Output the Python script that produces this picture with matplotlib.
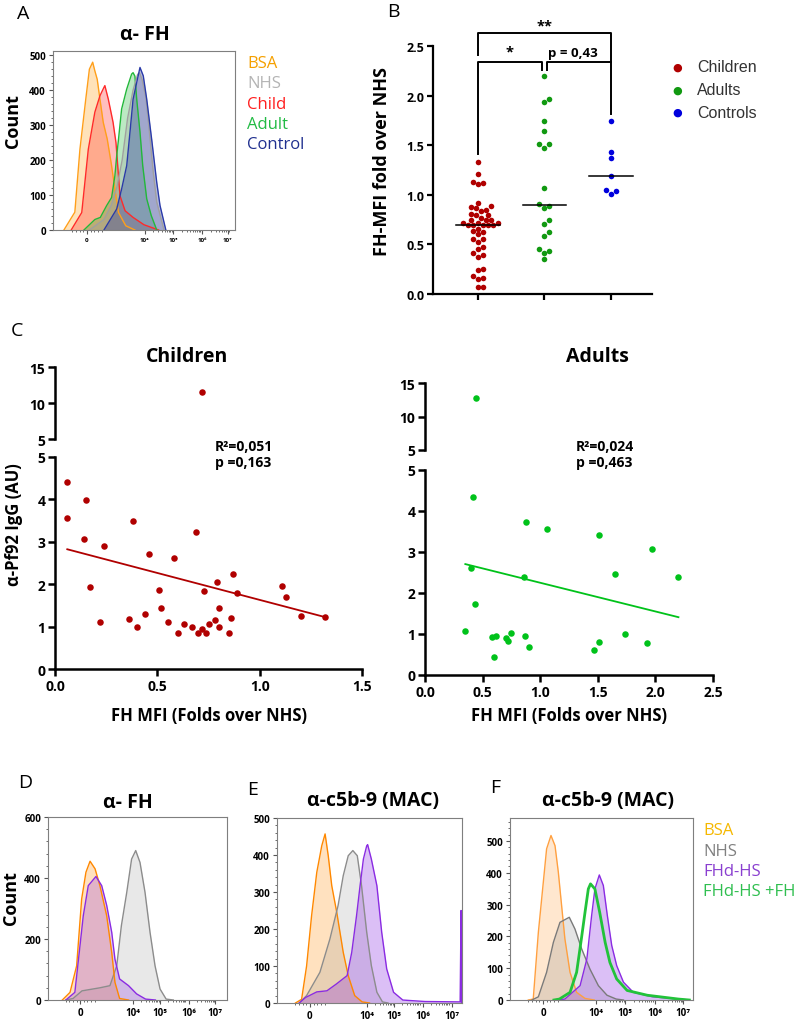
# Multi-panel figure: flow histograms, FH-MFI scatter, IgG correlations

import numpy as np
import matplotlib
matplotlib.use("Agg")
import matplotlib.pyplot as plt
from matplotlib.ticker import MultipleLocator, FixedLocator, AutoMinorLocator


W, H = 798, 1020
plt.rcParams['font.family'] = ['Open Sans', 'DejaVu Sans']


# ------------------------------------------------------------
# Data
# ------------------------------------------------------------

# flow axis ticks (position along the biexponential axis, 0..1)
flow_tick_labels = ["0", "10⁴", "10⁵", "10⁶", "10⁷"]
a_tick_pos = [0.187, 0.505, 0.66, 0.82, 0.96]
def_tick_pos = [0.18, 0.475, 0.625, 0.785, 0.935]

# Panel A histograms
a_bsa_x = [0.06, 0.12, 0.148, 0.18, 0.20, 0.218, 0.23, 0.243, 0.258, 0.276, 0.298, 0.322, 0.34, 0.36, 0.40, 0.45]
a_bsa_y = [0, 51, 231, 374, 460, 480, 455, 431, 374, 308, 260, 184, 117, 50, 12, 0]
a_child_x = [0.10, 0.158, 0.194, 0.23, 0.258, 0.28, 0.285, 0.304, 0.33, 0.346, 0.368, 0.396, 0.44, 0.50, 0.58]
a_child_y = [0, 50, 231, 337, 384, 408, 413, 374, 308, 250, 98, 55, 36, 15, 0]
a_adult_x = [0.17, 0.23, 0.26, 0.295, 0.322, 0.34, 0.35, 0.36, 0.377, 0.405, 0.432, 0.44, 0.45, 0.46, 0.478, 0.493, 0.515, 0.54, 0.57]
a_adult_y = [0, 30, 36, 70, 93, 155, 212, 260, 346, 403, 446, 450, 440, 374, 280, 184, 89, 41, 0]
a_nhs_x = [0.20, 0.28, 0.32, 0.35, 0.38, 0.41, 0.44, 0.465, 0.475, 0.49, 0.51, 0.53, 0.55, 0.57, 0.61]
a_nhs_y = [0, 30, 70, 120, 200, 320, 400, 445, 450, 430, 380, 280, 170, 80, 0]
a_ctrl_x = [0.28, 0.35, 0.377, 0.405, 0.423, 0.44, 0.46, 0.478, 0.496, 0.515, 0.542, 0.57, 0.588, 0.62]
a_ctrl_y = [0, 60, 117, 184, 280, 374, 422, 465, 441, 374, 260, 136, 70, 0]

# Panel B: FH-MFI fold over NHS
b_groups = ["Children", "Adults", "Controls"]
b_children = [1.33, 1.21, 1.13, 1.12, 1.11, 0.92, 0.89, 0.88, 0.87, 0.85, 0.84, 0.81, 0.80, 0.80,
              0.77, 0.75, 0.75, 0.75, 0.72, 0.72, 0.72, 0.70, 0.70, 0.70, 0.70, 0.70, 0.66, 0.64,
              0.62, 0.60, 0.55, 0.55, 0.52, 0.47, 0.45, 0.41, 0.39, 0.37, 0.25, 0.24, 0.18, 0.16,
              0.15, 0.07, 0.07]
b_adults = [2.20, 1.97, 1.94, 1.74, 1.64, 1.51, 1.51, 1.47, 1.07, 0.91, 0.89, 0.87, 0.75, 0.71,
            0.62, 0.58, 0.45, 0.43, 0.41, 0.35]
b_controls = [1.74, 1.43, 1.37, 1.19, 1.05, 1.04, 1.01]
b_medians = [0.70, 0.90, 1.19]

# Panel C: anti-Pf92 IgG vs FH MFI
c_child_x = [0.06, 0.06, 0.15, 0.14, 0.24, 0.17, 0.38, 0.46, 0.58, 0.69, 0.79, 0.87, 1.11, 0.51,
             0.22, 0.36, 0.40, 0.44, 0.52, 0.55, 0.60, 0.63, 0.67, 0.70, 0.72, 0.73, 0.75, 0.74,
             0.78, 0.80, 0.80, 0.85, 0.86, 0.89, 1.13, 1.20, 1.32, 0.72]
c_child_y = [4.40, 3.56, 3.98, 3.06, 2.91, 1.93, 3.50, 2.71, 2.61, 3.23, 2.05, 2.25, 1.95, 1.87,
             1.10, 1.18, 0.98, 1.30, 1.45, 1.12, 0.85, 1.05, 1.00, 0.85, 0.95, 1.85, 1.05, 0.85,
             1.15, 1.45, 1.00, 0.85, 1.20, 1.80, 1.70, 1.25, 1.22, 11.5]
c_child_fit = (2.90, -1.27)     # intercept, slope
c_child_stats = "R²=0,051\np =0,163"

c_adult_x = [0.44, 0.42, 0.88, 1.06, 1.51, 1.97, 1.65, 2.20, 0.40, 0.86,
             0.35, 0.43, 0.58, 0.62, 0.60, 0.70, 0.72, 0.75, 0.87, 0.90, 1.47, 1.51, 1.74, 1.93]
c_adult_y = [12.8, 4.33, 3.73, 3.57, 3.41, 3.08, 2.47, 2.39, 2.60, 2.40,
             1.08, 1.72, 0.92, 0.95, 0.45, 0.90, 0.82, 1.02, 0.95, 0.68, 0.62, 0.80, 1.00, 0.78]
c_adult_fit = (2.95, -0.70)
c_adult_stats = "R²=0,024\np =0,463"

# Panel D histograms (alpha-FH)
d_bsa_x = [0.08, 0.123, 0.16, 0.188, 0.212, 0.235, 0.263, 0.29, 0.328, 0.356, 0.374, 0.40, 0.45]
d_bsa_y = [0, 25, 112, 331, 419, 455, 430, 375, 276, 156, 58, 5, 0]
d_fhd_x = [0.10, 0.15, 0.197, 0.225, 0.268, 0.30, 0.328, 0.356, 0.374, 0.40, 0.45, 0.495, 0.545, 0.60]
d_fhd_y = [0, 25, 276, 375, 405, 375, 310, 222, 134, 69, 47, 20, 3, 0]
d_nhs_x = [0.10, 0.14, 0.19, 0.29, 0.346, 0.384, 0.41, 0.44, 0.467, 0.49, 0.514, 0.542, 0.57, 0.598, 0.626, 0.66, 0.70]
d_nhs_y = [0, 5, 30, 40, 47, 112, 244, 353, 462, 490, 451, 353, 222, 112, 36, 3, 0]

# Panel E histograms (alpha-c5b-9)
e_bsa_x = [0.10, 0.133, 0.16, 0.187, 0.215, 0.242, 0.26, 0.277, 0.296, 0.323, 0.358, 0.385, 0.42, 0.46, 0.50]
e_bsa_y = [0, 10, 100, 236, 353, 425, 457, 398, 317, 245, 137, 74, 20, 3, 0]
e_nhs_x = [0.12, 0.16, 0.232, 0.286, 0.33, 0.358, 0.385, 0.41, 0.434, 0.457, 0.485, 0.51, 0.54, 0.57, 0.60]
e_nhs_y = [0, 20, 83, 173, 263, 344, 398, 412, 398, 317, 191, 101, 29, 3, 0]
e_fhd_x = [0.12, 0.155, 0.215, 0.27, 0.32, 0.379, 0.404, 0.43, 0.449, 0.467, 0.485, 0.49, 0.51,
           0.54, 0.566, 0.593, 0.63, 0.68, 0.80, 0.99, 0.995, 0.997]
e_fhd_y = [0, 15, 30, 33, 51, 74, 137, 236, 317, 389, 425, 428, 389, 317, 191, 92, 29, 8, 4, 3, 250, 0]

# Panel F histograms (alpha-c5b-9)
f_bsa_x = [0.10, 0.127, 0.155, 0.182, 0.20, 0.224, 0.246, 0.264, 0.282, 0.30, 0.328, 0.364, 0.41, 0.46]
f_bsa_y = [0, 3, 213, 370, 475, 517, 485, 402, 297, 192, 87, 24, 5, 0]
f_nhs_x = [0.12, 0.155, 0.20, 0.237, 0.273, 0.324, 0.355, 0.392, 0.437, 0.483, 0.53, 0.58, 0.62]
f_nhs_y = [0, 10, 87, 181, 244, 260, 223, 160, 97, 45, 15, 3, 0]
f_fhd_x = [0.26, 0.30, 0.383, 0.42, 0.446, 0.464, 0.488, 0.51, 0.532, 0.556, 0.583, 0.62, 0.674, 0.78, 0.92, 0.98]
f_fhd_y = [0, 3, 45, 129, 265, 349, 393, 360, 265, 171, 108, 56, 24, 10, 3, 0]
f_fhdfh_x = [0.24, 0.27, 0.328, 0.364, 0.39, 0.41, 0.428, 0.44, 0.464, 0.49, 0.52, 0.546, 0.583, 0.64, 0.75, 0.92, 0.98]
f_fhdfh_y = [0, 3, 24, 87, 192, 276, 349, 365, 349, 276, 181, 118, 66, 30, 15, 3, 0]


# ------------------------------------------------------------
# Helpers
# ------------------------------------------------------------

fig = plt.figure(figsize=(W / 100, H / 100), dpi=100)


def add_ax(left, top, right, bottom):
    return fig.add_axes([left / W, 1 - bottom / H, (right - left) / W, (bottom - top) / H])


def ftext(x, y, s, **kw):
    fig.text(x / W, 1 - y / H, s, **kw)


def flow_axes(ax, ymax, tick_pos, step, label_size=7):
    ax.set_xlim(0, 1)
    ax.set_ylim(0, ymax)
    for sp in ax.spines.values():
        sp.set_color("#7f7f7f")
        sp.set_linewidth(0.8)
    ax.yaxis.set_major_locator(MultipleLocator(step))
    ax.yaxis.set_minor_locator(AutoMinorLocator(5))
    ax.xaxis.set_major_locator(FixedLocator(tick_pos))
    ax.set_xticklabels(flow_tick_labels)
    decade = tick_pos[2] - tick_pos[1]
    minor = []
    for p in tick_pos[1:4]:
        minor += [p + decade * np.log10(k) for k in range(2, 10)]
    minor += [tick_pos[0] - 0.02 * k for k in range(1, 5)] + [tick_pos[0] + 0.02 * k for k in range(1, 5)]
    ax.xaxis.set_minor_locator(FixedLocator(minor))
    ax.tick_params(which="major", length=3, width=0.8, color="#555555", pad=2)
    ax.tick_params(which="minor", length=1.5, width=0.6, color="#555555")
    for lab in ax.get_yticklabels() + ax.get_xticklabels():
        lab.set_fontsize(label_size)
        lab.set_fontweight("bold")


def hist(ax, x, y, color, alpha=0.3, lw=1.0, fill=True):
    if fill:
        ax.fill_between(x, y, color=color, alpha=alpha, lw=0)
    ax.plot(x, y, color=color, lw=lw)


def swarm(values, px_x, px_y, min_dist, step):
    # place points bottom-up, nudging sideways until they do not overlap
    order = np.argsort(values, kind="stable")
    placed = []
    offsets = np.zeros(len(values))
    for i in order:
        yp = values[i] * px_y
        k = 0
        while True:
            cands = [0.0] if k == 0 else [k * step, -k * step]
            ok = None
            for c in cands:
                if all((c - ox) ** 2 + (yp - oy) ** 2 >= min_dist ** 2 for ox, oy in placed):
                    ok = c
                    break
            if ok is not None:
                break
            k += 1
        placed.append((ok, yp))
        offsets[i] = ok / px_x
    return offsets


# ------------------------------------------------------------
# Panel A
# ------------------------------------------------------------

ax_a = add_ax(53, 52, 235, 231)
hist(ax_a, a_bsa_x, a_bsa_y, "#ff9f1a")
hist(ax_a, a_child_x, a_child_y, "#ff2a2a")
hist(ax_a, a_adult_x, a_adult_y, "#22b83a")
hist(ax_a, a_nhs_x, a_nhs_y, "#a0a0a0")
hist(ax_a, a_ctrl_x, a_ctrl_y, "#2a3aa8", alpha=0.35)
flow_axes(ax_a, 512, a_tick_pos, 100)
for lab in ax_a.get_xticklabels():
    lab.set_fontsize(4.5)
ax_a.set_ylabel("Count", fontsize=13, fontweight="bold")
ax_a.yaxis.set_label_coords(-0.17, 0.615)

ftext(23, 14, "A", fontsize=14, va="center", ha="center")
ftext(145, 35, "α- FH", fontsize=14, fontweight="bold", va="center", ha="center")

a_legend = [("BSA", "#f5a000"), ("NHS", "#b4b4b4"), ("Child", "#ff2020"),
            ("Adult", "#22bb44"), ("Control", "#20308f")]
for i, (name, col) in enumerate(a_legend):
    ftext(247, 64 + i * 20.3, name, fontsize=12, color=col, va="center")


# ------------------------------------------------------------
# Panel B
# ------------------------------------------------------------

ax_b = add_ax(433, 47, 652, 295)
ax_b.set_ylim(0, 2.5)
ax_b.set_xlim(-0.68, 2.62)
fig.canvas.draw()
px_x = (ax_b.transData.transform((1, 0))[0] - ax_b.transData.transform((0, 0))[0])
px_y = (ax_b.transData.transform((0, 1))[1] - ax_b.transData.transform((0, 0))[1])

b_colors = ["#b00000", "#119911", "#0000dd"]
for gi, vals in enumerate([b_children, b_adults, b_controls]):
    vals = np.array(vals)
    offs = swarm(vals, px_x, px_y, 5.0, 2.5)
    ax_b.scatter(gi + offs, vals, s=16, color=b_colors[gi], lw=0, zorder=3)
    ax_b.plot([gi - 0.33, gi + 0.33], [b_medians[gi]] * 2, color="black", lw=1.1, zorder=4)

for sp in ["top", "right"]:
    ax_b.spines[sp].set_visible(False)
for sp in ["left", "bottom"]:
    ax_b.spines[sp].set_linewidth(1.6)
ax_b.set_xticks([0, 1, 2])
ax_b.set_xticklabels([])
ax_b.yaxis.set_major_locator(MultipleLocator(0.5))
ax_b.yaxis.set_major_formatter(matplotlib.ticker.FormatStrFormatter("%.1f"))
ax_b.tick_params(length=4, width=1.6, labelsize=9, pad=2)
for lab in ax_b.get_yticklabels():
    lab.set_fontweight("bold")
ax_b.set_ylabel("FH-MFI fold over NHS", fontsize=13, fontweight="bold")
ax_b.yaxis.set_label_coords(-0.19, 0.54)

# significance brackets
bk = dict(color="black", lw=1.4, clip_on=False)
ax_b.plot([0, 0, 2, 2], [2.41, 2.63, 2.63, 2.34], **bk)
ax_b.plot([0, 0, 0.96, 0.96], [1.41, 2.34, 2.34, 2.26], **bk)
ax_b.plot([1.04, 1.04, 2, 2], [2.26, 2.34, 2.34, 1.81], **bk)
ax_b.text(1.0, 2.71, "**", ha="center", va="center", fontsize=10.5, fontweight="bold")
ax_b.text(0.48, 2.44, "*", ha="center", va="center", fontsize=10.5, fontweight="bold")
ax_b.text(1.43, 2.43, "p = 0,43", ha="center", va="center", fontsize=9.5, fontweight="bold")

ftext(393, 12, "B", fontsize=14, va="center", ha="center")
for i, name in enumerate(b_groups):
    yy = 68 + i * 22.5
    ftext(677, yy, "●", fontsize=8, color=b_colors[i], va="center", ha="center", family="DejaVu Sans")
    ftext(697, yy, name, fontsize=11.5, color="#333333", va="center", family="Liberation Sans")


# ------------------------------------------------------------
# Panel C
# ------------------------------------------------------------

def corr_panel(x0, x1, up_top, up_bot, lo_top, lo_bot, xmax, xs, ys, fit, color, stats, stats_xy):
    xs = np.array(xs)
    ys = np.array(ys)
    ax_up = add_ax(x0, up_top, x1, up_bot)
    ax_lo = add_ax(x0, lo_top, x1, lo_bot)
    for ax in (ax_up, ax_lo):
        ax.set_xlim(0, xmax)
        ax.spines["top"].set_visible(False)
        ax.spines["right"].set_visible(False)
        ax.spines["left"].set_linewidth(1.8)
        ax.spines["bottom"].set_linewidth(1.8)
        ax.tick_params(length=5, width=1.8, labelsize=10, pad=2)
    ax_up.set_ylim(5, 15)
    ax_up.set_yticks([5, 10, 15])
    ax_up.spines["bottom"].set_visible(False)
    ax_up.set_xticks([])
    ax_lo.set_ylim(0, 5)
    ax_lo.set_yticks(range(6))
    ax_lo.xaxis.set_major_locator(MultipleLocator(0.5))
    ax_lo.xaxis.set_major_formatter(matplotlib.ticker.FormatStrFormatter("%.1f"))
    for ax in (ax_up, ax_lo):
        for lab in ax.get_yticklabels() + ax.get_xticklabels():
            lab.set_fontweight("bold")
    hi = ys > 5
    ax_up.scatter(xs[hi], ys[hi], s=22, color=color, lw=0, clip_on=False)
    ax_lo.scatter(xs[~hi], ys[~hi], s=22, color=color, lw=0, clip_on=False)
    xl = np.array([xs.min(), xs.max()])
    ax_lo.plot(xl, fit[0] + fit[1] * xl, color=color, lw=1.3)
    ftext((x0 + x1) / 2, 716, "FH MFI (Folds over NHS)", fontsize=12, fontweight="bold",
          ha="center", va="center")
    ftext(stats_xy[0], stats_xy[1], stats, fontsize=10, fontweight="bold", va="center",
          linespacing=1.2)
    return ax_up, ax_lo


corr_panel(55, 362, 368, 440, 458, 670, 1.5, c_child_x, c_child_y, c_child_fit,
           "#b00000", c_child_stats, (215, 455))
corr_panel(425, 713, 384, 451, 471, 676, 2.5, c_adult_x, c_adult_y, c_adult_fit,
           "#00c21a", c_adult_stats, (576, 455))

ftext(17, 331, "C", fontsize=14, va="center", ha="center")
ftext(187, 357, "Children", fontsize=14, fontweight="bold", va="center", ha="center")
ftext(597, 357, "Adults", fontsize=14, fontweight="bold", va="center", ha="center")
ftext(14, 525, "α-Pf92 IgG (AU)", fontsize=12, fontweight="bold", va="center", ha="center",
      rotation=90)


# ------------------------------------------------------------
# Panels D, E, F
# ------------------------------------------------------------

c_bsa = "#ff8800"
c_nhs = "#8c8c8c"
c_fhd = "#8a2be2"

ax_d = add_ax(48, 818, 227, 1001)
hist(ax_d, d_nhs_x, d_nhs_y, c_nhs, alpha=0.2)
hist(ax_d, d_bsa_x, d_bsa_y, c_bsa, alpha=0.25)
hist(ax_d, d_fhd_x, d_fhd_y, c_fhd, alpha=0.25)
flow_axes(ax_d, 600, def_tick_pos, 200)
ax_d.set_ylabel("Count", fontsize=13, fontweight="bold")
ax_d.yaxis.set_label_coords(-0.155, 0.56)

ax_e = add_ax(277, 819, 462, 1004)
hist(ax_e, e_bsa_x, e_bsa_y, c_bsa, alpha=0.25)
hist(ax_e, e_nhs_x, e_nhs_y, c_nhs, alpha=0.2)
hist(ax_e, e_fhd_x, e_fhd_y, c_fhd, alpha=0.3)
flow_axes(ax_e, 500, [0.178, 0.486, 0.632, 0.789, 0.946], 100)

ax_f = add_ax(510, 819, 693, 1001)
hist(ax_f, f_bsa_x, f_bsa_y, "#ffa040", alpha=0.25)
hist(ax_f, f_nhs_x, f_nhs_y, "#7a7a7a", alpha=0.2)
hist(ax_f, f_fhd_x, f_fhd_y, c_fhd, alpha=0.3)
hist(ax_f, f_fhdfh_x, f_fhdfh_y, "#22c33a", lw=2.0, fill=False)
flow_axes(ax_f, 572, [0.18, 0.47, 0.628, 0.79, 0.945], 100)

ftext(25, 783, "D", fontsize=14, va="center", ha="center")
ftext(253, 790, "E", fontsize=14, va="center", ha="center")
ftext(495, 788, "F", fontsize=14, va="center", ha="center")
ftext(128, 803, "α- FH", fontsize=14, fontweight="bold", va="center", ha="center")
ftext(373, 801, "α-c5b-9 (MAC)", fontsize=14, fontweight="bold", va="center", ha="center")
ftext(608, 801, "α-c5b-9 (MAC)", fontsize=14, fontweight="bold", va="center", ha="center")

f_legend = [("BSA", "#f5b800"), ("NHS", "#808080"), ("FHd-HS", "#8a3fd0"), ("FHd-HS +FH", "#2fbf4f")]
for i, (name, col) in enumerate(f_legend):
    ftext(703, 831 + i * 20.5, name, fontsize=12, color=col, va="center")

fig.savefig("out.png", dpi=100)
